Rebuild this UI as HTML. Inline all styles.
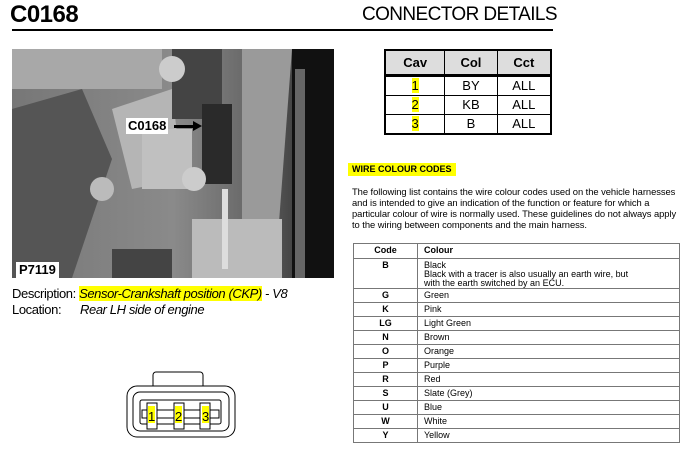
<!DOCTYPE html>
<html><head><meta charset="utf-8"><style>
body{margin:0;width:694px;height:455px;background:#fff;position:relative;overflow:hidden;font-family:"Liberation Sans",sans-serif;color:#000}
.a{position:absolute}
.hl{background:#ffff00}
table{border-collapse:collapse;position:absolute}
#t1{left:384px;top:49px;width:168px;border:2px solid #000}
#t1 td{border:1px solid #000;text-align:center;font-size:13px;height:18px;padding:0;line-height:18px}
#t1 th{background:#ddd;border:1px solid #000;font-size:13px;height:21px;border-bottom:3px solid #000}
#t2{left:353px;top:243px;width:327px;border:1px solid #555;font-size:9px}
#t2 td,#t2 th{border:1px solid #777;padding:2px 0 0 0;height:14px;line-height:9px;vertical-align:top;box-sizing:border-box}
#t2 td:first-child,#t2 th:first-child{text-align:center;font-weight:bold;width:64px}
#t2 td:last-child,#t2 th:last-child{padding-left:6px;text-align:left}
</style></head><body>
<div class="a" style="left:10px;top:1px;font-size:24px;font-weight:bold;letter-spacing:-0.5px">C0168</div>
<div class="a" style="left:362px;top:4px;font-size:19px;letter-spacing:-0.6px">CONNECTOR DETAILS</div>
<div class="a" style="left:12px;top:29px;width:541px;height:2px;background:#000"></div>

<svg class="a" style="left:12px;top:49px" width="322" height="229" viewBox="0 0 322 229">
<defs><linearGradient id="g" x1="0" y1="0" x2="1" y2="0"><stop offset="0" stop-color="#777"/><stop offset="0.5" stop-color="#8a8a8a"/><stop offset="0.75" stop-color="#666"/><stop offset="1" stop-color="#222"/></linearGradient></defs>
<rect width="322" height="229" fill="url(#g)"/>
<rect x="0" y="0" width="150" height="40" fill="#a8a8a8"/>
<path d="M0 60 L70 40 L100 110 L60 229 L0 229Z" fill="#555"/>
<path d="M100 60 L160 40 L170 130 L120 140Z" fill="#b5b5b5"/>
<rect x="160" y="0" width="50" height="70" fill="#444"/>
<rect x="130" y="80" width="50" height="60" fill="#c0c0c0"/>
<path d="M230 0 L280 0 L265 200 L230 229Z" fill="#9a9a9a"/>
<rect x="280" y="0" width="42" height="229" fill="#111"/>
<rect x="283" y="20" width="10" height="209" fill="#666"/>
<rect x="190" y="55" width="30" height="80" fill="#2a2a2a"/>
<rect x="180" y="170" width="90" height="59" fill="#bbb"/>
<rect x="100" y="200" width="60" height="29" fill="#444"/>
<rect x="210" y="140" width="6" height="80" fill="#ddd"/>
<circle cx="182" cy="130" r="12" fill="#ccc"/>
<circle cx="160" cy="20" r="13" fill="#ccc"/>
<circle cx="90" cy="140" r="12" fill="#bbb"/>
</svg>
<div class="a" style="left:126px;top:118px;background:#fff;font-size:13px;font-weight:bold;padding:0 2px;line-height:16px">C0168</div>
<div class="a" style="left:174px;top:125px;width:20px;height:3px;background:#000"></div>
<div class="a" style="left:193px;top:121px;width:0;height:0;border-left:9px solid #000;border-top:5px solid transparent;border-bottom:5px solid transparent"></div>
<div class="a" style="left:16px;top:262px;background:#fff;font-size:13px;font-weight:bold;padding:0 3px;line-height:16px">P7119</div>

<div class="a" style="left:12px;top:286px;font-size:13px;line-height:16px;letter-spacing:-0.4px">Description: <i class="hl">Sensor-Crankshaft position (CKP)</i> <i>- V8</i></div>
<div class="a" style="left:12px;top:302px;font-size:13px;line-height:16px;letter-spacing:-0.4px">Location:<span style="position:absolute;left:68px;white-space:nowrap"><i>Rear LH side of engine</i></span></div>

<svg class="a" style="left:120px;top:365px" width="125" height="85" viewBox="120 365 125 85">
<rect x="153" y="372" width="50" height="18" rx="3" fill="#fff" stroke="#000"/>
<rect x="127" y="386" width="108" height="51" rx="10" fill="#fff" stroke="#000"/>
<rect x="133" y="392" width="96" height="39" rx="7" fill="none" stroke="#000"/>
<rect x="140" y="400" width="81" height="24" rx="2" fill="none" stroke="#000"/>
<rect x="142" y="410" width="77" height="8" fill="none" stroke="#000"/>
<rect x="147" y="403" width="10" height="26" fill="#fff" stroke="#000"/>
<rect x="174" y="403" width="10" height="26" fill="#fff" stroke="#000"/>
<rect x="200" y="403" width="10" height="26" fill="#fff" stroke="#000"/>
<rect x="148" y="406" width="7" height="17" fill="#ff0"/>
<rect x="175" y="406" width="7" height="17" fill="#ff0"/>
<rect x="202" y="406" width="7" height="17" fill="#ff0"/>
<text x="148" y="421" font-size="13" font-family="Liberation Sans">1</text>
<text x="175" y="421" font-size="13" font-family="Liberation Sans">2</text>
<text x="202" y="421" font-size="13" font-family="Liberation Sans">3</text>
</svg>

<table id="t1"><tr><th>Cav</th><th>Col</th><th>Cct</th></tr>
<tr><td><span class="hl">1</span></td><td>BY</td><td>ALL</td></tr>
<tr><td><span class="hl">2</span></td><td>KB</td><td>ALL</td></tr>
<tr><td><span class="hl">3</span></td><td>B</td><td>ALL</td></tr></table>

<div class="a hl" style="left:348px;top:163px;font-size:9px;font-weight:bold;padding:1px 4px;line-height:11px">WIRE COLOUR CODES</div>
<div class="a" style="left:352px;top:186px;width:330px;font-size:9.4px;line-height:11px;letter-spacing:-0.05px">The following list contains the wire colour codes used on the vehicle harnesses and is intended to give an indication of the function or feature for which a particular colour of wire is normally used. These guidelines do not always apply to the wiring between components and the main harness.</div>

<table id="t2">
<tr><th style="height:15px">Code</th><th>Colour</th></tr>
<tr><td style="height:30px">B</td><td>Black<br>Black with a tracer is also usually an earth wire, but<br>with the earth switched by an ECU.</td></tr>
<tr><td>G</td><td>Green</td></tr>
<tr><td>K</td><td>Pink</td></tr>
<tr><td>LG</td><td>Light Green</td></tr>
<tr><td>N</td><td>Brown</td></tr>
<tr><td>O</td><td>Orange</td></tr>
<tr><td>P</td><td>Purple</td></tr>
<tr><td>R</td><td>Red</td></tr>
<tr><td>S</td><td>Slate (Grey)</td></tr>
<tr><td>U</td><td>Blue</td></tr>
<tr><td>W</td><td>White</td></tr>
<tr><td>Y</td><td>Yellow</td></tr>
</table>
</body></html>
